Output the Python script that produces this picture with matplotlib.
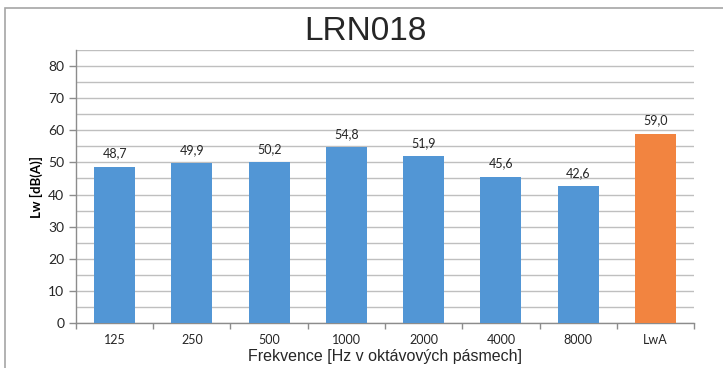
import matplotlib
matplotlib.use('Agg')
from matplotlib import pyplot as plt
from matplotlib.patches import Rectangle
import numpy as np

categories = ['125', '250', '500', '1000', '2000', '4000', '8000', 'LwA']
values = [48.7, 49.9, 50.2, 54.8, 51.9, 45.6, 42.6, 59.0]
bar_colors = ['#5296D5'] * 7 + ['#F28440']

fig = plt.figure(figsize=(7.23, 3.68), dpi=100)
ax = fig.add_axes([76/723, 1 - 323/368, (694 - 76)/723, (323 - 50)/368])

# outer chart border
fig.patches.append(Rectangle((5/723, -0.1), 1.2, 1 - 8/368 + 0.1, transform=fig.transFigure,
                             fill=False, edgecolor='#A6A6A6', linewidth=1.2, zorder=0))

x = np.arange(len(categories))
ax.bar(x, values, width=0.53, color=bar_colors, zorder=3)

for xi, v in zip(x, values):
    ax.text(xi, v + 2.2, f"{v:.1f}".replace('.', ','), ha='center', va='bottom',
            fontsize=9, family='Lato', color='#262626')

ax.set_xlim(-0.5, len(categories) - 0.5)
ax.set_ylim(0, 85)
ax.set_yticks(np.arange(0, 81, 10))
ax.set_yticks(np.arange(5, 86, 5), minor=True)
ax.grid(axis='y', which='both', color='#BFBFBF', linewidth=1.0, zorder=0)
ax.set_axisbelow(True)

ax.set_xticks(x)
ax.set_xticklabels(categories, fontsize=9, family='Lato', color='#262626')
ax.tick_params(axis='x', length=0, pad=8)
ax.set_xticks(np.arange(-0.5, len(categories), 1), minor=True)
ax.tick_params(axis='x', which='minor', length=4, color='#8C8C8C', width=1)
ax.tick_params(axis='y', which='major', length=5, color='#8C8C8C', width=1,
               labelsize=10, labelcolor='#262626')
ax.tick_params(axis='y', which='minor', length=0)
for lbl in ax.get_yticklabels():
    lbl.set_family('Lato')

for s in ['top', 'right']:
    ax.spines[s].set_visible(False)
for s in ['left', 'bottom']:
    ax.spines[s].set_color('#8C8C8C')
    ax.spines[s].set_linewidth(1)

ax.set_ylabel("Lw [dB(A)]", fontsize=9.5, fontweight='bold', family='Lato', labelpad=4)
fig.text(385/723, 1 - 357/368, "Frekvence [Hz v oktávových pásmech]", ha='center', va='center',
         fontsize=11.5, family='Liberation Sans', color='#262626')
fig.text(365/723, 1 - 31/368, "LRN018", ha='center', va='center', fontsize=24,
         family='Liberation Sans', color='#262626')

fig.savefig('out.png', dpi=100)
